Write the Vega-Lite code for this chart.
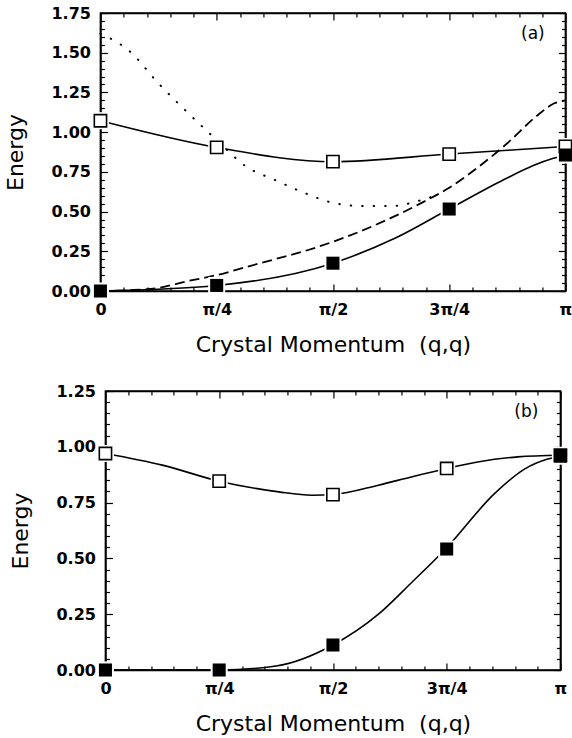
{
  "$schema": "https://vega.github.io/schema/vega-lite/v6.json",
  "padding": {"left": 4, "top": 4, "right": 0, "bottom": 2},
  "background": "white",
  "center": true,
  "spacing": 26,
  "datasets": {
    "markA": [
      {"series": "upper", "x": 0, "y": 1.072},
      {"series": "upper", "x": 0.25, "y": 0.904},
      {"series": "upper", "x": 0.5, "y": 0.814},
      {"series": "upper", "x": 0.75, "y": 0.862},
      {"series": "upper", "x": 1, "y": 0.91},
      {"series": "lower", "x": 0, "y": 0.0},
      {"series": "lower", "x": 0.25, "y": 0.035},
      {"series": "lower", "x": 0.5, "y": 0.175},
      {"series": "lower", "x": 0.75, "y": 0.516},
      {"series": "lower", "x": 1, "y": 0.856}
    ],
    "lineA": [
      {"series": "upper", "x": 0, "y": 1.072},
      {"series": "upper", "x": 0.25, "y": 0.904},
      {"series": "upper", "x": 0.5, "y": 0.814},
      {"series": "upper", "x": 0.75, "y": 0.862},
      {"series": "upper", "x": 1, "y": 0.91},
      {"series": "lower", "x": 0, "y": 0.0},
      {"series": "lower", "x": 0.25, "y": 0.035},
      {"series": "lower", "x": 0.5, "y": 0.175},
      {"series": "lower", "x": 0.632, "y": 0.33},
      {"series": "lower", "x": 0.75, "y": 0.516},
      {"series": "lower", "x": 0.867, "y": 0.7},
      {"series": "lower", "x": 0.931, "y": 0.79},
      {"series": "lower", "x": 0.974, "y": 0.835},
      {"series": "lower", "x": 1, "y": 0.856}
    ],
    "dashA": [
      {"x": 0, "y": 0},
      {"x": 0.0625, "y": 0.005},
      {"x": 0.125, "y": 0.02},
      {"x": 0.1875, "y": 0.062},
      {"x": 0.25, "y": 0.1},
      {"x": 0.3125, "y": 0.15},
      {"x": 0.375, "y": 0.2},
      {"x": 0.4375, "y": 0.25},
      {"x": 0.5, "y": 0.31},
      {"x": 0.5625, "y": 0.38},
      {"x": 0.625, "y": 0.46},
      {"x": 0.6875, "y": 0.55},
      {"x": 0.75, "y": 0.65},
      {"x": 0.8125, "y": 0.78},
      {"x": 0.875, "y": 0.93},
      {"x": 0.9375, "y": 1.1},
      {"x": 0.975, "y": 1.18},
      {"x": 1, "y": 1.2}
    ],
    "dotA": [
      {"x": 0, "y": 1.62},
      {"x": 0.0625, "y": 1.51},
      {"x": 0.125, "y": 1.306},
      {"x": 0.1875, "y": 1.123},
      {"x": 0.25, "y": 0.95},
      {"x": 0.3125, "y": 0.785},
      {"x": 0.375, "y": 0.699},
      {"x": 0.4375, "y": 0.619},
      {"x": 0.5, "y": 0.555},
      {"x": 0.5625, "y": 0.535},
      {"x": 0.625, "y": 0.535},
      {"x": 0.6875, "y": 0.57},
      {"x": 0.72, "y": 0.6}
    ],
    "labA": [{"x": 0.93, "y": 1.62, "label": "(a)"}],
    "markB": [
      {"series": "upper", "x": 0, "y": 0.97},
      {"series": "upper", "x": 0.25, "y": 0.846},
      {"series": "upper", "x": 0.5, "y": 0.786},
      {"series": "upper", "x": 0.75, "y": 0.903},
      {"series": "upper", "x": 1, "y": 0.962},
      {"series": "lower", "x": 0, "y": 0},
      {"series": "lower", "x": 0.25, "y": 0},
      {"series": "lower", "x": 0.5, "y": 0.112},
      {"series": "lower", "x": 0.75, "y": 0.542},
      {"series": "lower", "x": 1, "y": 0.958}
    ],
    "lineB": [
      {"series": "upper", "x": 0, "y": 0.97},
      {"series": "upper", "x": 0.125, "y": 0.918},
      {"series": "upper", "x": 0.25, "y": 0.846},
      {"series": "upper", "x": 0.381, "y": 0.798},
      {"series": "upper", "x": 0.454, "y": 0.783},
      {"series": "upper", "x": 0.5, "y": 0.786},
      {"series": "upper", "x": 0.6, "y": 0.828},
      {"series": "upper", "x": 0.672, "y": 0.865},
      {"series": "upper", "x": 0.75, "y": 0.903},
      {"series": "upper", "x": 0.818, "y": 0.932},
      {"series": "upper", "x": 0.906, "y": 0.955},
      {"series": "upper", "x": 1, "y": 0.962},
      {"series": "lower", "x": 0, "y": 0},
      {"series": "lower", "x": 0.25, "y": 0},
      {"series": "lower", "x": 0.375, "y": 0.018},
      {"series": "lower", "x": 0.5, "y": 0.112},
      {"series": "lower", "x": 0.6, "y": 0.25},
      {"series": "lower", "x": 0.672, "y": 0.39},
      {"series": "lower", "x": 0.75, "y": 0.548},
      {"series": "lower", "x": 0.855, "y": 0.79},
      {"series": "lower", "x": 0.921, "y": 0.9},
      {"series": "lower", "x": 0.972, "y": 0.945},
      {"series": "lower", "x": 1, "y": 0.958}
    ],
    "labB": [{"x": 0.925, "y": 1.156, "label": "(b)"}]
  },
  "vconcat": [
    {
      "width": 465,
      "height": 278,
      "resolve": {"axis": {"x": "independent", "y": "independent"}},
      "layer": [
        {
          "data": {"name": "dotA"},
          "mark": {"type": "line", "interpolate": "monotone", "color": "black", "strokeWidth": 2, "strokeDash": [0.5, 11], "strokeCap": "round"},
          "encoding": {
            "x": {"field": "x", "type": "quantitative", "scale": {"domain": [0, 1], "nice": false},
              "axis": {"orient": "bottom", "title": "Crystal Momentum \u00a0(q,q)", "values": [0,0.05,0.1,0.15,0.2,0.25,0.3,0.35,0.4,0.45,0.5,0.55,0.6,0.65,0.7,0.75,0.8,0.85,0.9,0.95,1],
                "labelExpr": "datum.value == 0 ? '0' : datum.value == 0.25 ? 'π/4' : datum.value == 0.5 ? 'π/2' : datum.value == 0.75 ? '3π/4' : datum.value == 1 ? 'π' : ''",
                "tickSize": {"condition": {"test": "abs(datum.value*4 - round(datum.value*4)) < 0.001", "value": -7}, "value": -4},
                "labelPadding": 17, "titlePadding": 14, "labelOverlap": false, "labelFlush": false}},
            "y": {"field": "y", "type": "quantitative", "scale": {"domain": [0, 1.75], "nice": false},
              "axis": {"orient": "left", "title": "Energy", "values": [0,0.05,0.1,0.15,0.2,0.25,0.3,0.35,0.4,0.45,0.5,0.55,0.6,0.65,0.7,0.75,0.8,0.85,0.9,0.95,1,1.05,1.1,1.15,1.2,1.25,1.3,1.35,1.4,1.45,1.5,1.55,1.6,1.65,1.7,1.75],
                "labelExpr": "abs(datum.value*4 - round(datum.value*4)) < 0.001 ? format(datum.value, '.2f') : ''",
                "tickSize": {"condition": {"test": "abs(datum.value*4 - round(datum.value*4)) < 0.001", "value": -7}, "value": -4},
                "labelPadding": 17, "titlePadding": 23, "labelOverlap": false, "labelFlush": false}}
          }
        },
        {
          "data": {"name": "dashA"},
          "mark": {"type": "line", "interpolate": "monotone", "color": "black", "strokeWidth": 1.8, "strokeDash": [10, 5]},
          "encoding": {
            "x": {"field": "x", "type": "quantitative", "axis": null},
            "y": {"field": "y", "type": "quantitative", "axis": null}
          }
        },
        {
          "data": {"name": "lineA"},
          "mark": {"type": "line", "interpolate": "monotone", "color": "black", "strokeWidth": 1.6},
          "encoding": {
            "x": {"field": "x", "type": "quantitative", "axis": null},
            "y": {"field": "y", "type": "quantitative", "axis": null},
            "detail": {"field": "series"}
          }
        },
        {
          "data": {"name": "markA"},
          "mark": {"type": "point", "shape": "square", "filled": true, "color": "white", "size": 290, "opacity": 1},
          "encoding": {
            "x": {"field": "x", "type": "quantitative", "axis": null},
            "y": {"field": "y", "type": "quantitative", "axis": null}
          }
        },
        {
          "data": {"name": "markA"},
          "transform": [{"filter": "datum.series == 'upper'"}],
          "mark": {"type": "point", "shape": "square", "filled": true, "fill": "white", "stroke": "black", "strokeWidth": 1.6, "size": 150, "opacity": 1},
          "encoding": {
            "x": {"field": "x", "type": "quantitative", "axis": null},
            "y": {"field": "y", "type": "quantitative", "axis": null}
          }
        },
        {
          "data": {"name": "markA"},
          "transform": [{"filter": "datum.series == 'lower'"}],
          "mark": {"type": "point", "shape": "square", "filled": true, "color": "black", "size": 170, "opacity": 1},
          "encoding": {
            "x": {"field": "x", "type": "quantitative", "axis": null},
            "y": {"field": "y", "type": "quantitative", "axis": null}
          }
        },
        {
          "data": {"name": "labA"},
          "mark": {"type": "text", "font": "DejaVu Sans", "fontSize": 17, "color": "black", "align": "center", "baseline": "middle"},
          "encoding": {
            "x": {"field": "x", "type": "quantitative", "axis": null},
            "y": {"field": "y", "type": "quantitative", "axis": null},
            "text": {"field": "label"}
          }
        },
        {
          "data": {"name": "labA"},
          "mark": {"type": "point", "opacity": 0},
          "encoding": {
            "x": {"field": "x", "type": "quantitative",
              "axis": {"orient": "top", "title": null, "labels": false, "values": [0,0.05,0.1,0.15,0.2,0.25,0.3,0.35,0.4,0.45,0.5,0.55,0.6,0.65,0.7,0.75,0.8,0.85,0.9,0.95,1],
                "tickSize": {"condition": {"test": "abs(datum.value*4 - round(datum.value*4)) < 0.001", "value": -7}, "value": -4}}},
            "y": {"field": "y", "type": "quantitative",
              "axis": {"orient": "right", "title": null, "labels": false, "values": [0,0.05,0.1,0.15,0.2,0.25,0.3,0.35,0.4,0.45,0.5,0.55,0.6,0.65,0.7,0.75,0.8,0.85,0.9,0.95,1,1.05,1.1,1.15,1.2,1.25,1.3,1.35,1.4,1.45,1.5,1.55,1.6,1.65,1.7,1.75],
                "tickSize": {"condition": {"test": "abs(datum.value*4 - round(datum.value*4)) < 0.001", "value": -7}, "value": -4}}}
          }
        }
      ]
    },
    {
      "width": 455,
      "height": 279,
      "resolve": {"axis": {"x": "independent", "y": "independent"}},
      "layer": [
        {
          "data": {"name": "lineB"},
          "mark": {"type": "line", "interpolate": "monotone", "color": "black", "strokeWidth": 1.6},
          "encoding": {
            "x": {"field": "x", "type": "quantitative", "scale": {"domain": [0, 1], "nice": false},
              "axis": {"orient": "bottom", "title": "Crystal Momentum \u00a0(q,q)", "values": [0,0.05,0.1,0.15,0.2,0.25,0.3,0.35,0.4,0.45,0.5,0.55,0.6,0.65,0.7,0.75,0.8,0.85,0.9,0.95,1],
                "labelExpr": "datum.value == 0 ? '0' : datum.value == 0.25 ? 'π/4' : datum.value == 0.5 ? 'π/2' : datum.value == 0.75 ? '3π/4' : datum.value == 1 ? 'π' : ''",
                "tickSize": {"condition": {"test": "abs(datum.value*4 - round(datum.value*4)) < 0.001", "value": -7}, "value": -4},
                "labelPadding": 17, "titlePadding": 14, "labelOverlap": false, "labelFlush": false}},
            "y": {"field": "y", "type": "quantitative", "scale": {"domain": [0, 1.25], "nice": false},
              "axis": {"orient": "left", "title": "Energy", "values": [0,0.05,0.1,0.15,0.2,0.25,0.3,0.35,0.4,0.45,0.5,0.55,0.6,0.65,0.7,0.75,0.8,0.85,0.9,0.95,1,1.05,1.1,1.15,1.2,1.25],
                "labelExpr": "abs(datum.value*4 - round(datum.value*4)) < 0.001 ? format(datum.value, '.2f') : ''",
                "tickSize": {"condition": {"test": "abs(datum.value*4 - round(datum.value*4)) < 0.001", "value": -7}, "value": -4},
                "labelPadding": 17, "titlePadding": 23, "labelOverlap": false, "labelFlush": false}},
            "detail": {"field": "series"}
          }
        },
        {
          "data": {"name": "markB"},
          "mark": {"type": "point", "shape": "square", "filled": true, "color": "white", "size": 290, "opacity": 1},
          "encoding": {
            "x": {"field": "x", "type": "quantitative", "axis": null},
            "y": {"field": "y", "type": "quantitative", "axis": null}
          }
        },
        {
          "data": {"name": "markB"},
          "transform": [{"filter": "datum.series == 'upper'"}],
          "mark": {"type": "point", "shape": "square", "filled": true, "fill": "white", "stroke": "black", "strokeWidth": 1.6, "size": 150, "opacity": 1},
          "encoding": {
            "x": {"field": "x", "type": "quantitative", "axis": null},
            "y": {"field": "y", "type": "quantitative", "axis": null}
          }
        },
        {
          "data": {"name": "markB"},
          "transform": [{"filter": "datum.series == 'lower'"}],
          "mark": {"type": "point", "shape": "square", "filled": true, "color": "black", "size": 170, "opacity": 1},
          "encoding": {
            "x": {"field": "x", "type": "quantitative", "axis": null},
            "y": {"field": "y", "type": "quantitative", "axis": null}
          }
        },
        {
          "data": {"name": "labB"},
          "mark": {"type": "text", "font": "DejaVu Sans", "fontSize": 17, "color": "black", "align": "center", "baseline": "middle"},
          "encoding": {
            "x": {"field": "x", "type": "quantitative", "axis": null},
            "y": {"field": "y", "type": "quantitative", "axis": null},
            "text": {"field": "label"}
          }
        },
        {
          "data": {"name": "labB"},
          "mark": {"type": "point", "opacity": 0},
          "encoding": {
            "x": {"field": "x", "type": "quantitative",
              "axis": {"orient": "top", "title": null, "labels": false, "values": [0,0.05,0.1,0.15,0.2,0.25,0.3,0.35,0.4,0.45,0.5,0.55,0.6,0.65,0.7,0.75,0.8,0.85,0.9,0.95,1],
                "tickSize": {"condition": {"test": "abs(datum.value*4 - round(datum.value*4)) < 0.001", "value": -7}, "value": -4}}},
            "y": {"field": "y", "type": "quantitative",
              "axis": {"orient": "right", "title": null, "labels": false, "values": [0,0.05,0.1,0.15,0.2,0.25,0.3,0.35,0.4,0.45,0.5,0.55,0.6,0.65,0.7,0.75,0.8,0.85,0.9,0.95,1,1.05,1.1,1.15,1.2,1.25],
                "tickSize": {"condition": {"test": "abs(datum.value*4 - round(datum.value*4)) < 0.001", "value": -7}, "value": -4}}}
          }
        }
      ]
    }
  ],
  "config": {
    "view": {"stroke": "black", "strokeWidth": 1.6},
    "axis": {
      "grid": false,
      "zindex": 1,
      "domainColor": "black", "domainWidth": 1.6,
      "tickColor": "black", "tickWidth": 1.2,
      "labelColor": "black", "titleColor": "black",
      "labelFont": "DejaVu Sans", "labelFontWeight": "bold", "labelFontSize": 16,
      "titleFont": "DejaVu Sans", "titleFontWeight": "normal", "titleFontSize": 22
    }
  }
}
